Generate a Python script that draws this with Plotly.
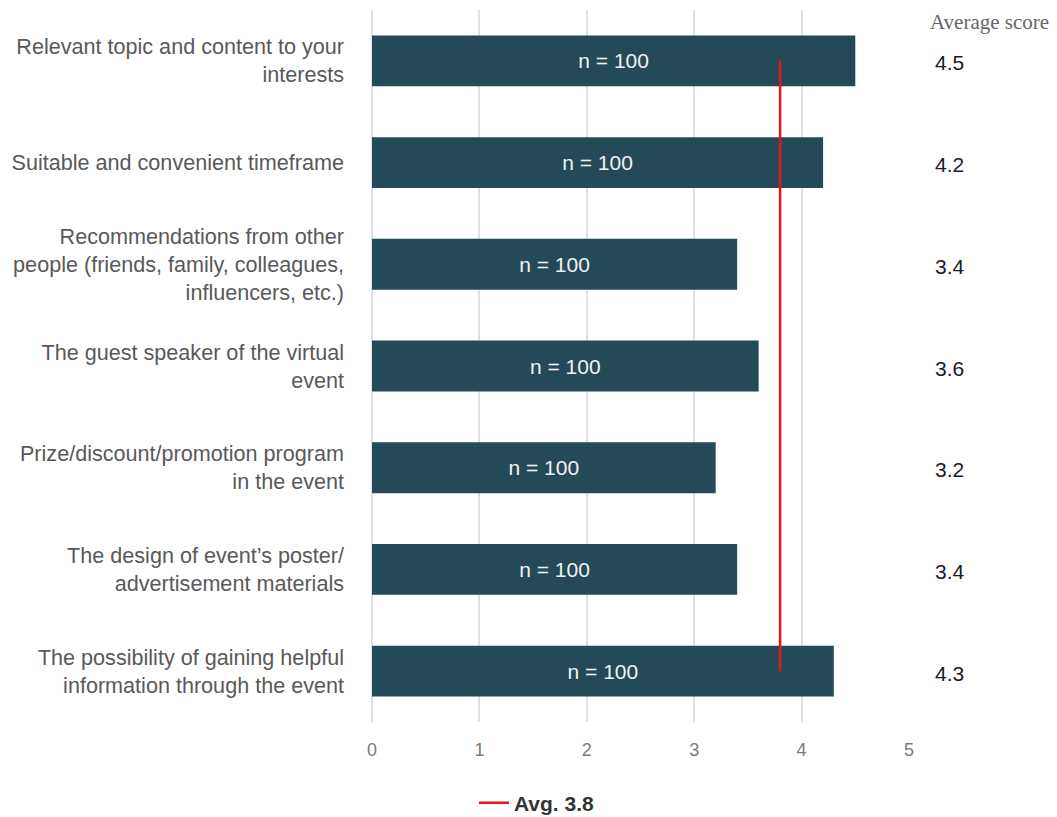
import plotly.graph_objects as go

# Survey factors and their average scores (scale 0-5)
factors = [
    "Relevant topic and content to your<br>interests",
    "Suitable and convenient timeframe",
    "Recommendations from other<br>people (friends, family, colleagues,<br>influencers, etc.)",
    "The guest speaker of the virtual<br>event",
    "Prize/discount/promotion program<br>in the event",
    "The design of event\u2019s poster/<br>advertisement materials",
    "The possibility of gaining helpful<br>information through the event",
]
scores = [4.5, 4.2, 3.4, 3.6, 3.2, 3.4, 4.3]
respondents = [100, 100, 100, 100, 100, 100, 100]
x_ticks = [0, 1, 2, 3, 4, 5]

avg = round(sum(scores) / len(scores), 1)

BAR = "#244a57"
LABEL = "#595959"
GRID = "#dde1e5"
SANS = "Liberation Sans, Arial, sans-serif"

fig = go.Figure()

fig.add_trace(go.Bar(
    x=scores,
    y=factors,
    orientation="h",
    marker=dict(color=BAR, line=dict(width=0)),
    width=0.5,
    text=[f"n = {n}" for n in respondents],
    textposition="inside",
    insidetextanchor="middle",
    textfont=dict(family=SANS, size=21, color="#f2f2f2"),
    showlegend=False,
    hoverinfo="skip",
))

fig.add_trace(go.Scatter(
    x=[avg, avg],
    y=[factors[0], factors[-1]],
    mode="lines",
    line=dict(color="#e8141c", width=2.5),
    name=f"<b>Avg. {avg:.1f}</b>",
    showlegend=True,
))

# Average score column on the right
annotations = [dict(
    text="Average score",
    xref="paper", yref="paper",
    x=1.149, y=0.983,
    xanchor="center", yanchor="middle",
    showarrow=False,
    font=dict(family="Liberation Serif, Times New Roman, serif", size=21, color="#666666"),
)]
for f, s in zip(factors, scores):
    annotations.append(dict(
        text=f"{s:.1f}",
        xref="paper", yref="y",
        x=1.076, y=f,
        xanchor="center", yanchor="middle",
        yshift=-2,
        showarrow=False,
        font=dict(family=SANS, size=21, color="#1a1a2a"),
    ))

fig.update_layout(
    width=1057, height=817,
    margin=dict(l=372, r=148, t=10, b=95),
    plot_bgcolor="white",
    paper_bgcolor="white",
    bargap=0.5,
    annotations=annotations,
    legend=dict(
        orientation="h",
        xref="container", yref="container",
        x=0.508, y=0.017,
        xanchor="center", yanchor="middle",
        font=dict(family=SANS, size=21, color="#333333"),
        itemwidth=30,
    ),
    xaxis=dict(
        range=[0, 5],
        tickvals=x_ticks,
        showgrid=True,
        gridcolor=GRID,
        gridwidth=1.5,
        zeroline=True,
        zerolinecolor=GRID,
        zerolinewidth=1.5,
        showline=False,
        ticks="",
        ticklabelstandoff=15,
        tickfont=dict(family=SANS, size=18, color="#7a7a7a"),
        fixedrange=True,
    ),
    yaxis=dict(
        autorange="reversed",
        showgrid=False,
        ticks="",
        ticklabelstandoff=27,
        tickfont=dict(family=SANS, size=21.6, color=LABEL),
    ),
)

fig.write_html("out.html")
